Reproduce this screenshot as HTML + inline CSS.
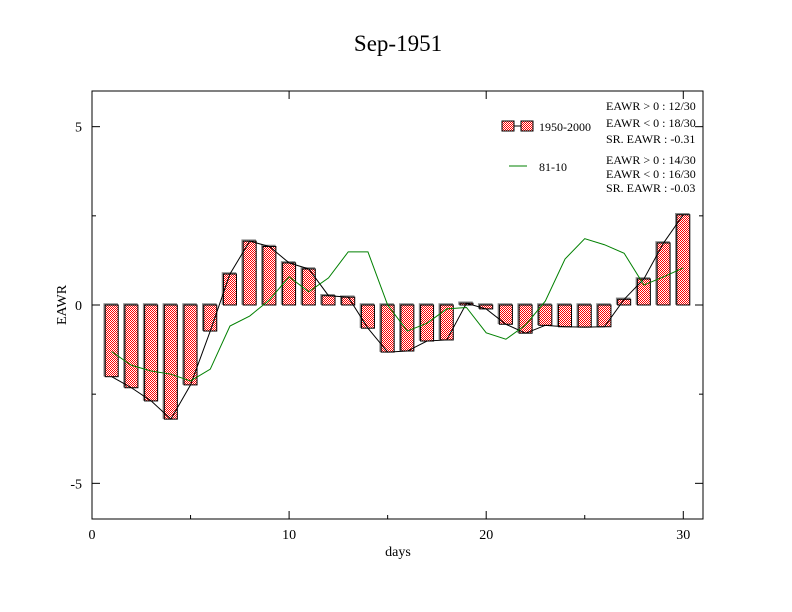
<!DOCTYPE html>
<html><head><meta charset="utf-8"><style>
body{margin:0;background:#fff;}
svg{display:block;font-family:"Liberation Serif",serif;}
</style></head><body>
<svg id="chart" width="792" height="612" viewBox="0 0 792 612">
<defs>
<pattern id="chk" width="2" height="2" patternUnits="userSpaceOnUse">
<rect width="2" height="2" fill="#fff"/>
<rect width="1" height="1" fill="#f00"/>
<rect x="1" y="1" width="1" height="1" fill="#f00"/>
</pattern>
</defs>
<text x="398" y="51" font-size="23" text-anchor="middle">Sep-1951</text>
<rect x="92" y="91" width="611" height="428" fill="none" stroke="#000" stroke-width="1"/>
<g id="axes"></g>
<g id="marks"></g>
<text x="398" y="556" font-size="14" text-anchor="middle">days</text>
<text x="66" y="305" font-size="14" text-anchor="middle" transform="rotate(-90 66 305)">EAWR</text>
<g>
<rect x="502" y="121" width="12" height="10" fill="url(#chk)" stroke="#000"/>
<line x1="514" y1="126" x2="521" y2="126" stroke="#000"/>
<rect x="521" y="121" width="12" height="10" fill="url(#chk)" stroke="#000"/>
<text x="539" y="131" font-size="12">1950-2000</text>
<line x1="509" y1="166" x2="527" y2="166" stroke="#008000"/>
<text x="539" y="171" font-size="12">81-10</text>
<text x="606" y="110" font-size="12">EAWR &gt; 0 : 12/30</text>
<text x="606" y="127" font-size="12">EAWR &lt; 0 : 18/30</text>
<text x="606" y="143" font-size="12">SR. EAWR : -0.31</text>
<text x="606" y="164" font-size="12">EAWR &gt; 0 : 14/30</text>
<text x="606" y="178" font-size="12">EAWR &lt; 0 : 16/30</text>
<text x="606" y="192" font-size="12">SR. EAWR : -0.03</text>
</g>
</svg>
<script>
const days = [1,2,3,4,5,6,7,8,9,10,11,12,13,14,15,16,17,18,19,20,21,22,23,24,25,26,27,28,29,30];
const bars1950 = [-2.01,-2.32,-2.69,-3.2,-2.24,-0.73,0.87,1.79,1.64,1.18,1.01,0.26,0.22,-0.65,-1.32,-1.29,-1.01,-0.98,0.05,-0.11,-0.54,-0.79,-0.57,-0.61,-0.62,-0.61,0.16,0.73,1.74,2.53];
const line8110 = [-1.31,-1.69,-1.85,-1.94,-2.13,-1.8,-0.59,-0.31,0.14,0.79,0.37,0.76,1.49,1.49,0,-0.73,-0.51,-0.11,-0.07,-0.78,-0.96,-0.56,0.11,1.29,1.86,1.69,1.45,0.56,0.79,1.04];
const xTicks = [0,10,20,30];
const yTicks = [-5,0,5];
const NS="http://www.w3.org/2000/svg";
const X0=92,X1=703,Y0=91,Y1=519;
const xs=v=>X0+(v-0)*(X1-X0)/31;
const ys=v=>Y1-(v+6)*(Y1-Y0)/12;
function mk(tag,attrs,parent){const e=document.createElementNS(NS,tag);for(const k in attrs)e.setAttribute(k,attrs[k]);parent.appendChild(e);return e;}
const ax=document.getElementById('axes'), mg=document.getElementById('marks');
xTicks.forEach(t=>{
  const l=mk('line',{x1:xs(t),x2:xs(t),y1:Y1,y2:Y1-8,stroke:'#000'},ax);
  
  
  const l2=mk('line',{x1:xs(t),x2:xs(t),y1:Y0,y2:Y0+8,stroke:'#000'},ax);
  
  
  const tx=mk('text',{x:xs(t),y:Y1+20,'font-size':14,'text-anchor':'middle'},ax);tx.textContent=t;
  
  
});
for(let t=5;t<31;t+=10){
  const l=mk('line',{x1:xs(t),x2:xs(t),y1:Y1,y2:Y1-4,stroke:'#000'},ax);
  
  
}
yTicks.forEach(t=>{
  const l=mk('line',{x1:X0,x2:X0+8,y1:ys(t),y2:ys(t),stroke:'#000'},ax);
  
  
  const l2=mk('line',{x1:X1,x2:X1-8,y1:ys(t),y2:ys(t),stroke:'#000'},ax);
  
  
  const tx=mk('text',{x:X0-10,y:ys(t)+5,'font-size':14,'text-anchor':'end'},ax);tx.textContent=t;
  
  
});
[-2.5,2.5].forEach(t=>{
  const l=mk('line',{x1:X0,x2:X0+4,y1:ys(t),y2:ys(t),stroke:'#000'},ax);
  
  
  const l2=mk('line',{x1:X1,x2:X1-4,y1:ys(t),y2:ys(t),stroke:'#000'},ax);
  
  
});
const bw=13;
days.forEach((d,i)=>{
  const v=bars1950[i];
  const top=Math.min(ys(v),ys(0)),h=Math.abs(ys(v)-ys(0));
  const sh=mk('rect',{x:xs(d)-bw/2-1,y:top-1,width:bw,height:h,fill:'none',stroke:'#888','stroke-width':1.5},mg);
  
  
  const r=mk('rect',{x:xs(d)-bw/2,y:top,width:bw,height:h,fill:'url(#chk)',stroke:'#000','stroke-width':1},mg);
  
  
});
const p1=mk('polyline',{points:days.map((d,i)=>xs(d)+','+ys(bars1950[i])).join(' '),fill:'none',stroke:'#000','stroke-width':1},mg);


const p2=mk('polyline',{points:days.map((d,i)=>xs(d)+','+ys(line8110[i])).join(' '),fill:'none',stroke:'#008000','stroke-width':1},mg);


</script>
</body></html>
